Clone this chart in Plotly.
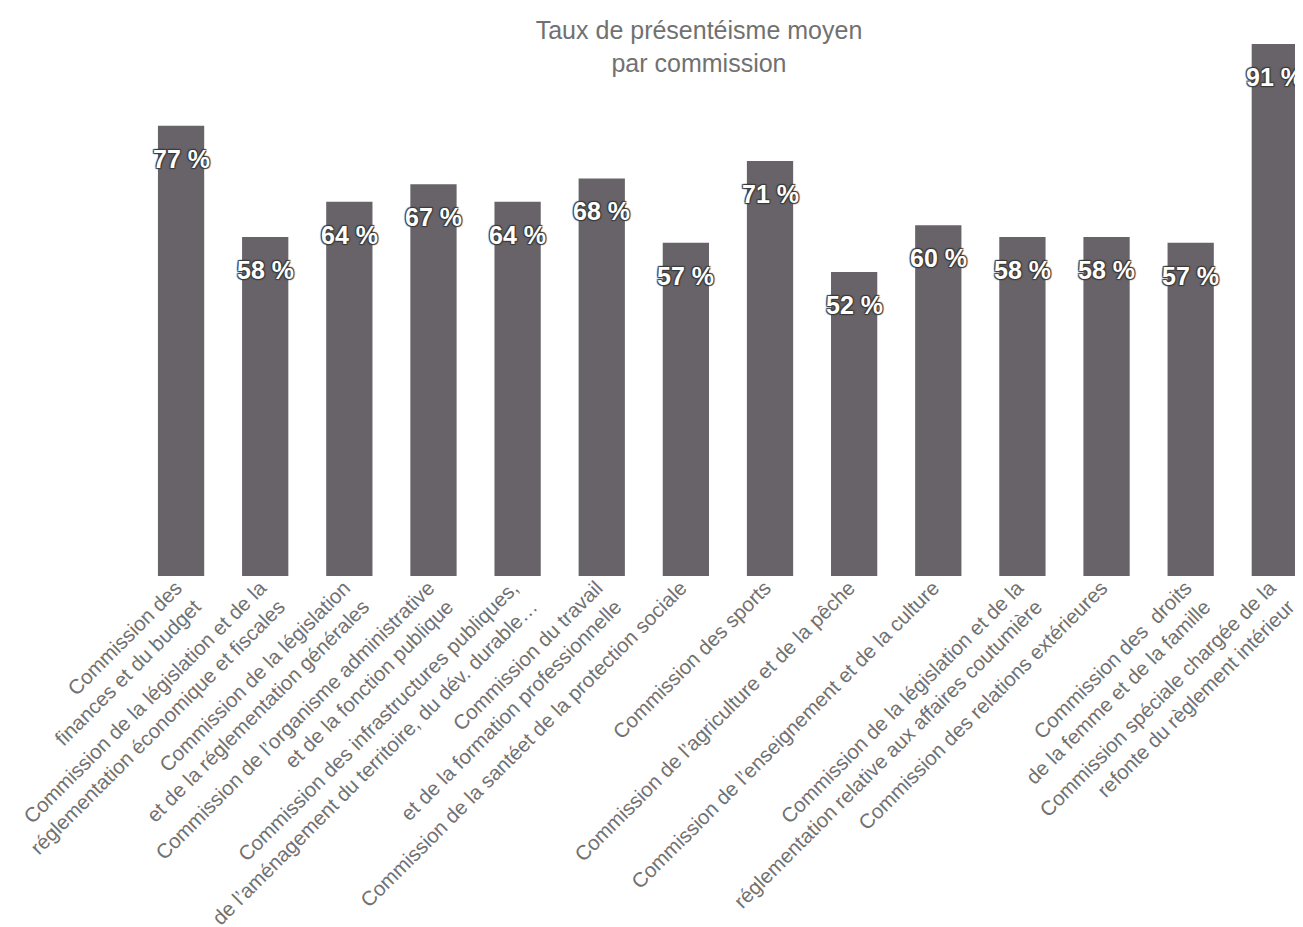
import plotly.graph_objects as go

categories = [
    "Commission des<br>finances et du budget",
    "Commission de la législation et de la<br>réglementation économique et fiscales",
    "Commission de la législation<br>et de la réglementation générales",
    "Commission de l’organisme administrative<br>et de la fonction publique",
    "Commission des infrastructures publiques,<br>de l’aménagement du territoire, du dév. durable…",
    "Commission du travail<br>et de la formation professionnelle",
    "Commission de la santéet de la protection sociale",
    "Commission des sports",
    "Commission de l’agriculture et de la pêche",
    "Commission de l’enseignement et de la culture",
    "Commission de la législation et de la<br>réglementation relative aux affaires coutumière",
    "Commission des relations extérieures",
    "Commission des  droits<br>de la femme et de la famille",
    "Commission spéciale chargée de la<br>refonte du règlement intérieur",
]
values = [77, 58, 64, 67, 64, 68, 57, 71, 52, 60, 58, 58, 57, 91]
value_labels = [f"{v} %" for v in values]

BAR = "#676369"
TXT = "#717171"
FONT = "Liberation Sans, Arial, sans-serif"

fig = go.Figure(
    go.Bar(
        x=list(range(len(categories))),
        y=values,
        marker=dict(color=BAR, line=dict(width=0)),
        width=0.55,
        hoverinfo="skip",
    )
)

outline = ("-1px -1px 1px #3a3a3a, 1px -1px 1px #3a3a3a, "
           "-1px 1px 1px #3a3a3a, 1px 1px 1px #3a3a3a")
for i, (v, lab) in enumerate(zip(values, value_labels)):
    fig.add_annotation(
        x=i, y=v, text=f"<b>{lab}</b>", showarrow=False,
        yanchor="middle", yshift=-33,
        font=dict(family=FONT, size=25, color="white", shadow=outline),
    )

fig.update_layout(
    width=1303, height=927,
    margin=dict(l=131, r=0, t=36, b=359, pad=0, autoexpand=False),
    paper_bgcolor="white", plot_bgcolor="white",
    showlegend=False,
    title=dict(
        text="Taux de présentéisme moyen<br>par commission",
        x=691 / 1303, xanchor="center", xref="container",
        y=1 - 31 / 927, yanchor="top", yref="container",
        font=dict(family=FONT, size=25, color=TXT),
    ),
    xaxis=dict(
        range=[-0.5, 13.43],
        automargin=False,
        tickmode="array",
        tickvals=list(range(len(categories))),
        ticktext=categories,
        tickangle=-45,
        ticklabeloverflow="allow",
        ticklabelstandoff=-5,
        ticklabelshift=-5,
        tickfont=dict(family=FONT, size=20.5, color=TXT),
        showgrid=False, zeroline=False, showline=False, ticks="",
    ),
    yaxis=dict(
        range=[0, 91], visible=False, showgrid=False, zeroline=False,
        automargin=False,
    ),
)

fig.write_html("out.html")
